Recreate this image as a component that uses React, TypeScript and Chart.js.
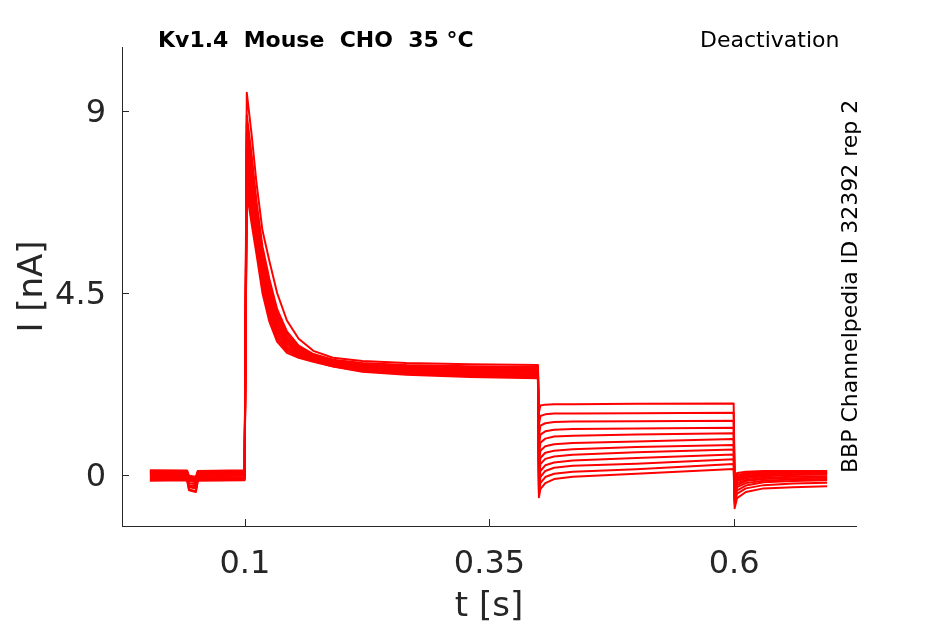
import { useEffect, useRef } from 'react';
import { Chart, registerables } from 'chart.js';

Chart.register(...registerables);

// sample times (s) shared by every sweep
const TIME = [
  0.003, 0.041, 0.043, 0.05, 0.052, 0.0998,
  0.102, 0.107, 0.112, 0.118, 0.125, 0.133, 0.143, 0.155, 0.17, 0.19, 0.22, 0.265, 0.33, 0.3995,
  0.4005, 0.402, 0.407, 0.416, 0.435, 0.5, 0.5995,
  0.6005, 0.603, 0.612, 0.63, 0.66, 0.695,
];

// current (nA) per sweep
const SWEEP_01 = [0.12, 0.11, -0.02, -0.04, 0.1, 0.12, 9.45, 8.4, 7.2, 6.05, 5.3, 4.5, 3.82, 3.37, 3.07, 2.9, 2.82, 2.77, 2.74, 2.72, 1.55, 1.72, 1.74, 1.75, 1.75, 1.76, 1.77, -0.2, 0.05, 0.08, 0.1, 0.1, 0.1];
const SWEEP_02 = [-0.06, -0.05, -0.3, -0.33, -0.06, -0.05, 8.9, 7.9, 6.75, 5.65, 4.85, 4.1, 3.55, 3.2, 2.99, 2.85, 2.77, 2.72, 2.69, 2.67, 1.25, 1.46, 1.5, 1.52, 1.52, 1.53, 1.54, -0.25, 0.0, 0.05, 0.08, 0.08, 0.09];
const SWEEP_03 = [0.08, 0.09, -0.08, -0.1, 0.07, 0.08, 8.7, 7.7, 6.6, 5.5, 4.72, 4.0, 3.5, 3.17, 2.97, 2.82, 2.74, 2.69, 2.66, 2.64, 0.95, 1.22, 1.28, 1.31, 1.32, 1.33, 1.34, -0.3, -0.05, 0.02, 0.05, 0.06, 0.07];
const SWEEP_04 = [-0.12, -0.11, -0.36, -0.4, -0.12, -0.11, 8.5, 7.5, 6.45, 5.38, 4.6, 3.92, 3.44, 3.14, 2.95, 2.8, 2.72, 2.66, 2.63, 2.61, 0.7, 1.0, 1.08, 1.12, 1.14, 1.15, 1.17, -0.35, -0.08, -0.02, 0.02, 0.04, 0.05];
const SWEEP_05 = [0.03, 0.04, -0.12, -0.14, 0.02, 0.04, 8.3, 7.3, 6.3, 5.25, 4.5, 3.84, 3.38, 3.11, 2.93, 2.77, 2.69, 2.63, 2.6, 2.58, 0.45, 0.8, 0.9, 0.95, 0.97, 1.0, 1.03, -0.4, -0.12, -0.05, 0.0, 0.02, 0.03];
const SWEEP_06 = [0.1, 0.09, -0.06, -0.08, 0.1, 0.09, 8.1, 7.1, 6.2, 5.13, 4.4, 3.76, 3.33, 3.08, 2.91, 2.75, 2.67, 2.61, 2.57, 2.55, 0.25, 0.6, 0.71, 0.76, 0.79, 0.83, 0.89, -0.45, -0.15, -0.08, -0.03, 0.0, 0.01];
const SWEEP_07 = [-0.09, -0.08, -0.28, -0.32, -0.09, -0.08, 7.9, 6.95, 6.1, 5.02, 4.3, 3.68, 3.28, 3.05, 2.89, 2.73, 2.65, 2.58, 2.54, 2.52, 0.05, 0.42, 0.55, 0.6, 0.64, 0.69, 0.74, -0.5, -0.2, -0.12, -0.07, -0.04, -0.03];
const SWEEP_08 = [0.0, 0.01, -0.2, -0.23, 0.0, 0.01, 7.7, 6.8, 5.95, 4.92, 4.2, 3.6, 3.23, 3.02, 2.87, 2.72, 2.63, 2.56, 2.51, 2.49, -0.1, 0.27, 0.4, 0.46, 0.5, 0.56, 0.63, -0.55, -0.25, -0.15, -0.1, -0.08, -0.06];
const SWEEP_09 = [0.05, 0.06, -0.15, -0.18, 0.05, 0.06, 7.5, 6.65, 5.85, 4.82, 4.1, 3.53, 3.17, 2.99, 2.85, 2.71, 2.61, 2.54, 2.48, 2.46, -0.25, 0.1, 0.24, 0.31, 0.36, 0.42, 0.51, -0.6, -0.3, -0.2, -0.14, -0.11, -0.1];
const SWEEP_10 = [-0.14, -0.13, -0.38, -0.42, -0.14, -0.13, 7.35, 6.5, 5.72, 4.72, 4.0, 3.45, 3.12, 2.96, 2.83, 2.7, 2.59, 2.52, 2.46, 2.43, -0.35, -0.05, 0.1, 0.18, 0.23, 0.28, 0.39, -0.65, -0.38, -0.26, -0.18, -0.15, -0.13];
const SWEEP_11 = [-0.03, -0.02, -0.25, -0.28, -0.03, -0.02, 7.2, 6.35, 5.6, 4.62, 3.9, 3.38, 3.07, 2.93, 2.82, 2.69, 2.57, 2.5, 2.44, 2.41, -0.45, -0.2, -0.05, 0.03, 0.08, 0.14, 0.27, -0.72, -0.46, -0.33, -0.25, -0.21, -0.19];
const SWEEP_12 = [0.07, 0.06, -0.1, -0.12, 0.07, 0.06, 7.0, 6.2, 5.45, 4.5, 3.8, 3.3, 3.02, 2.9, 2.8, 2.68, 2.55, 2.48, 2.42, 2.39, -0.55, -0.35, -0.2, -0.1, -0.04, 0.03, 0.15, -0.82, -0.57, -0.42, -0.33, -0.3, -0.28];

const SWEEPS = [
  SWEEP_01, SWEEP_02, SWEEP_03, SWEEP_04, SWEEP_05, SWEEP_06,
  SWEEP_07, SWEEP_08, SWEEP_09, SWEEP_10, SWEEP_11, SWEEP_12,
];

const X_TICKS = [0.1, 0.35, 0.6];
const Y_TICKS = [0, 4.5, 9];

const TITLE = 'Kv1.4  Mouse  CHO  35 °C';
const PROTOCOL = 'Deactivation';
const SOURCE = 'BBP Channelpedia ID 32392 rep 2';

const FONT = '"DejaVu Sans", sans-serif';
const AXIS_COLOR = '#262626';

// matlab style: ticks point into the axes, plus the header texts
const decorations = {
  id: 'decorations',
  afterDraw(chart: Chart) {
    const { ctx, chartArea, scales } = chart;
    const x = scales.x;
    const y = scales.y;
    ctx.save();
    ctx.strokeStyle = AXIS_COLOR;
    ctx.lineWidth = 1;
    ctx.beginPath();
    X_TICKS.forEach((v) => {
      const px = Math.round(x.getPixelForValue(v)) + 0.5;
      ctx.moveTo(px, chartArea.bottom);
      ctx.lineTo(px, chartArea.bottom - 7);
    });
    Y_TICKS.forEach((v) => {
      const py = Math.round(y.getPixelForValue(v)) + 0.5;
      ctx.moveTo(chartArea.left, py);
      ctx.lineTo(chartArea.left + 7, py);
    });
    ctx.stroke();

    ctx.fillStyle = '#000';
    ctx.textBaseline = 'alphabetic';
    ctx.textAlign = 'left';
    ctx.font = `bold 22px ${FONT}`;
    ctx.fillText(TITLE, 158, 47);
    ctx.font = `22px ${FONT}`;
    ctx.fillText(PROTOCOL, 700, 47);

    ctx.font = `22px ${FONT}`;
    ctx.translate(857, 473);
    ctx.rotate(-Math.PI / 2);
    ctx.fillText(SOURCE, 0, 0);
    ctx.restore();
  },
};

export default function App() {
  const canvasRef = useRef<HTMLCanvasElement>(null);
  const chartRef = useRef<Chart | null>(null);

  useEffect(() => {
    if (!canvasRef.current) return;
    if (chartRef.current) chartRef.current.destroy();

    chartRef.current = new Chart(canvasRef.current, {
      type: 'line',
      data: {
        datasets: SWEEPS.map((s, i) => ({
          label: `sweep ${i + 1}`,
          data: TIME.map((t, j) => ({ x: t, y: s[j] })),
          borderColor: '#ff0000',
          borderWidth: 2,
          borderJoinStyle: 'round' as const,
          pointRadius: 0,
          tension: 0,
          fill: false,
        })),
      },
      options: {
        animation: false,
        responsive: true,
        maintainAspectRatio: false,
        layout: { padding: { top: 47, right: 89, left: 0, bottom: 0 } },
        plugins: {
          legend: { display: false },
          tooltip: { enabled: false },
        },
        scales: {
          x: {
            type: 'linear',
            min: -0.0255,
            max: 0.7245,
            afterFit: (scale) => {
              scale.height = 98;
            },
            afterBuildTicks: (scale) => {
              scale.ticks = X_TICKS.map((v) => ({ value: v }));
            },
            grid: { display: false, drawTicks: false },
            border: { display: true, color: AXIS_COLOR, width: 1 },
            ticks: {
              padding: 19,
              color: AXIS_COLOR,
              font: { family: FONT, size: 32 },
              callback: (v) => String(v),
            },
            title: {
              display: true,
              text: 't [s]',
              color: AXIS_COLOR,
              font: { family: FONT, size: 34, lineHeight: 1 },
              padding: { top: 0, bottom: 0 },
            },
          },
          y: {
            type: 'linear',
            min: -1.26,
            max: 10.58,
            afterFit: (scale) => {
              scale.width = 122;
            },
            afterBuildTicks: (scale) => {
              scale.ticks = Y_TICKS.map((v) => ({ value: v }));
            },
            grid: { display: false, drawTicks: false },
            border: { display: true, color: AXIS_COLOR, width: 1 },
            ticks: {
              padding: 16,
              labelOffset: 3,
              color: AXIS_COLOR,
              font: { family: FONT, size: 32 },
              callback: (v) => String(v),
            },
            title: {
              display: true,
              text: 'I [nA]',
              color: AXIS_COLOR,
              font: { family: FONT, size: 34 },
              padding: { top: 13, bottom: 0 },
            },
          },
        },
      },
      plugins: [decorations],
    });

    return () => chartRef.current?.destroy();
  }, []);

  return (
    <div style={{ position: 'fixed', left: 0, top: 0, width: 945, height: 624, background: '#fff' }}>
      <canvas ref={canvasRef} />
    </div>
  );
}
